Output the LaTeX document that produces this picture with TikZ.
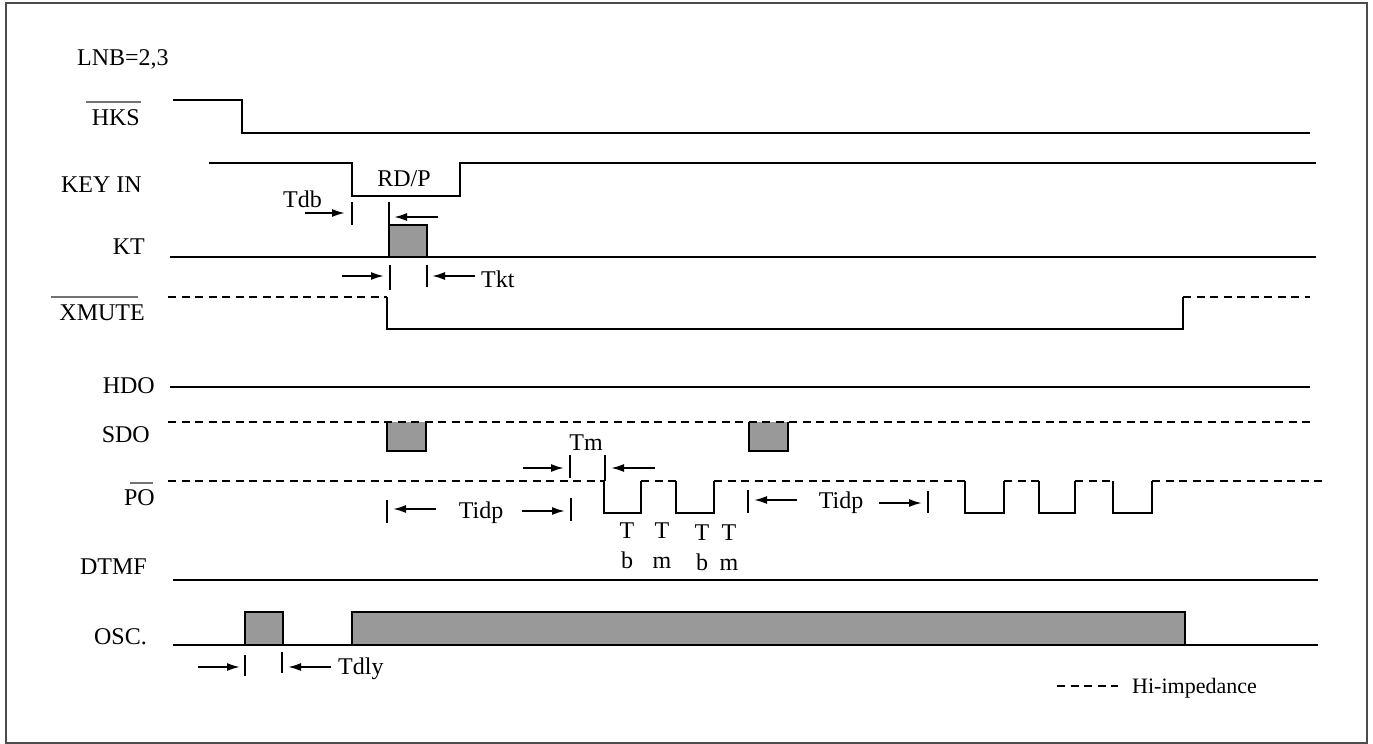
\documentclass[tikz,border=0pt]{standalone}
\usepackage{fontspec}
\setmainfont{Liberation Serif}
\usetikzlibrary{arrows.meta}
\begin{document}
\begin{tikzpicture}[x=1pt,y=-1pt,
  sig/.style={line width=2.2pt, line join=miter},
  hiz/.style={line width=2.2pt, dash pattern=on 8pt off 5.5pt},
  tickmark/.style={line width=2.2pt},
  dim/.style={line width=1.9pt,-{Latex[length=13pt,width=8pt]}},
  lbl/.style={inner sep=0pt, font=\fontsize{24}{28}\selectfont},
  lgd/.style={inner sep=0pt, font=\fontsize{22}{26}\selectfont},
  shade/.style={fill=black!40},
  ovl/.style={line width=1.5pt, draw=black!55}]
\useasboundingbox (0,0) rectangle (1373,744);
\draw[line width=1.5pt, black!70] (6,3) rectangle (1367,743);

% labels
\node[lbl, anchor=base west] (lnb) at (77,65) {LNB=2,3};
\node[lbl, anchor=base east] (hks) at (140,125) {HKS};
\draw[ovl] (86,102) -- (141,102);
\node[lbl, anchor=base east] (keyin) at (142,192) {KEY IN};
\node[lbl, anchor=base east] (kt) at (145,254) {KT};
\node[lbl, anchor=base east] (xmute) at (145,320) {XMUTE};
\draw[ovl] (51,297) -- (138,297);
\node[lbl, anchor=base east] (hdo) at (155,393) {HDO};
\node[lbl, anchor=base east] (sdo) at (150,442) {SDO};
\node[lbl, anchor=base east] (po) at (155,505) {PO};
\draw[ovl] (130,483) -- (153,483);
\node[lbl, anchor=base east] (dtmf) at (147,574) {DTMF};
\node[lbl, anchor=base east] (osc) at (147,644) {OSC.};

% HKS
\draw[sig] (173,100) -- (242,100) -- (242,133) -- (1310,133);
% KEY IN
\draw[sig] (209,163) -- (352,163) -- (352,196) -- (460,196) -- (460,163) -- (1316,163);
\node[lbl, anchor=base] (rdp) at (404,186) {RD/P};
% KT
\fill[shade] (389,225) rectangle (427,257);
\draw[sig] (389,257) -- (389,225) -- (427,225) -- (427,257);
\draw[sig] (170,257) -- (1316,257);
% XMUTE
\draw[hiz] (168,297) -- (387,297);
\draw[sig] (387,297) -- (387,329) -- (1183,329) -- (1183,297);
\draw[hiz] (1183,297) -- (1310,297);
% HDO
\draw[sig] (170,387) -- (1310,387);
% SDO
\fill[shade] (387,422) rectangle (426,451);
\fill[shade] (749,422) rectangle (788,451);
\draw[hiz] (168,422) -- (1313,422);
\draw[sig] (387,422) -- (387,451) -- (426,451) -- (426,422);
\draw[sig] (749,422) -- (749,451) -- (788,451) -- (788,422);
% PO
\draw[hiz] (168,481) -- (604,481);
\draw[sig] (604,481) -- (604,513) -- (641,513) -- (641,481);
\draw[hiz] (641,481) -- (676,481);
\draw[sig] (676,481) -- (676,513) -- (714,513) -- (714,481);
\draw[hiz] (714,481) -- (965,481);
\draw[sig] (965,481) -- (965,513) -- (1004,513) -- (1004,481);
\draw[hiz] (1004,481) -- (1039,481);
\draw[sig] (1039,481) -- (1039,513) -- (1075,513) -- (1075,481);
\draw[hiz] (1075,481) -- (1113,481);
\draw[sig] (1113,481) -- (1113,513) -- (1152,513) -- (1152,481);
\draw[hiz] (1152,481) -- (1322,481);
% DTMF
\draw[sig] (173,580) -- (1318,580);
% OSC
\fill[shade] (245,612) rectangle (283,645);
\fill[shade] (352,612) rectangle (1185,645);
\draw[sig] (245,645) -- (245,612) -- (283,612) -- (283,645);
\draw[sig] (352,645) -- (352,612) -- (1185,612) -- (1185,645);
\draw[sig] (173,645) -- (1318,645);

% Tdb
\node[lbl, anchor=base west] (tdb) at (283,207) {Tdb};
\draw[dim] (305,213) -- (345,213);
\draw[tickmark] (352,202) -- (352,225);
\draw[tickmark] (389,202) -- (389,225);
\draw[dim] (438,217) -- (394,217);
% Tkt
\draw[dim] (342,276) -- (384,276);
\draw[tickmark] (390,265) -- (390,290);
\draw[tickmark] (427,265) -- (427,287);
\draw[dim] (475,276) -- (432,276);
\node[lbl, anchor=base west] (tkt) at (481,287) {Tkt};
% Tm
\node[lbl, anchor=base] (tm) at (586,450) {Tm};
\draw[dim] (523,468) -- (564,468);
\draw[tickmark] (570,455) -- (570,478);
\draw[tickmark] (605,455) -- (605,481);
\draw[dim] (655,468) -- (611,468);
% Tidp 1
\draw[tickmark] (387,500) -- (387,523);
\draw[dim] (436,509) -- (393,509);
\node[lbl, anchor=base] (tidpa) at (481,518) {Tidp};
\draw[dim] (522,511) -- (565,511);
\draw[tickmark] (571,498) -- (571,521);
% Tidp 2
\draw[tickmark] (748,490) -- (748,513);
\draw[dim] (797,500) -- (754,500);
\node[lbl, anchor=base] (tidpb) at (841,508) {Tidp};
\draw[dim] (879,503) -- (922,503);
\draw[tickmark] (928,491) -- (928,513);
% Tb Tm
\node[lbl, anchor=base] (t1) at (627,538) {T};
\node[lbl, anchor=base] (b1) at (627,568) {b};
\node[lbl, anchor=base] (t2) at (662,538) {T};
\node[lbl, anchor=base] (m1) at (662,568) {m};
\node[lbl, anchor=base] (t3) at (702,540) {T};
\node[lbl, anchor=base] (b2) at (702,570) {b};
\node[lbl, anchor=base] (t4) at (729,540) {T};
\node[lbl, anchor=base] (m2) at (729,570) {m};
% Tdly
\draw[dim] (198,667) -- (240,667);
\draw[tickmark] (245,655) -- (245,676);
\draw[tickmark] (282,652) -- (282,673);
\draw[dim] (331,667) -- (288,667);
\node[lbl, anchor=base west] (tdly) at (338,674) {Tdly};

% legend
\draw[hiz] (1057,686) -- (1118,686);
\node[lgd, anchor=base west] (legend) at (1132,693) {Hi-impedance};
\end{tikzpicture}
\end{document}
